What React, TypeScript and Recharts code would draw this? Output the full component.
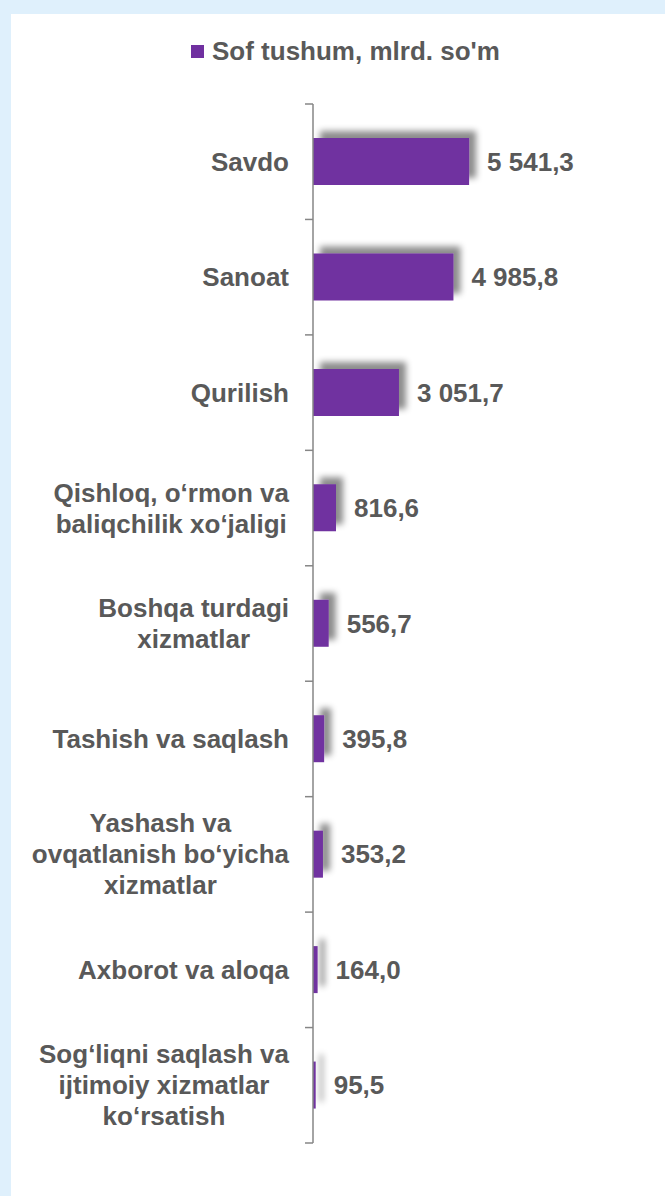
import React from 'react';
import { BarChart, Bar, XAxis, YAxis, LabelList } from 'recharts';

// categories (line breaks as in the source chart)
const categories = [
  'Savdo',
  'Sanoat',
  'Qurilish',
  'Qishloq, o‘rmon va\nbaliqchilik xo‘jaligi',
  'Boshqa turdagi\nxizmatlar',
  'Tashish va saqlash',
  'Yashash va\novqatlanish bo‘yicha\nxizmatlar',
  'Axborot va aloqa',
  'Sog‘liqni saqlash va\nijtimoiy xizmatlar\nko‘rsatish',
];
const sofTushum = [5541.3, 4985.8, 3051.7, 816.6, 556.7, 395.8, 353.2, 164.0, 95.5];
const seriesName = "Sof tushum, mlrd. so'm";

const data = categories.map((name, i) => ({ name, value: sofTushum[i] }));

const W = 665;
const H = 1196;
const TOP = 104;
const BOTTOM = 53;
const AXIS_X = 313;
const BAND = (H - TOP - BOTTOM) / categories.length;
const TEXT = '#595959';
const FONT = "'Liberation Sans', Arial, sans-serif";
const PURPLE = '#7030A0';

const fmt = (v: number) => {
  const [int, dec] = v.toFixed(1).split('.');
  return int.replace(/\B(?=(\d{3})+(?!\d))/g, ' ') + ',' + dec;
};

let ctx: CanvasRenderingContext2D | null = null;
const measure = (s: string) => {
  if (!ctx) ctx = document.createElement('canvas').getContext('2d');
  if (!ctx) return s.length * 14;
  ctx.font = `bold 26px ${FONT}`;
  return ctx.measureText(s).width;
};

const CategoryTick = (props: any) => {
  const { y, payload, index } = props;
  const lines: string[] = String(payload.value).split('\n');
  const right = AXIS_X - 24;
  const maxW = Math.max(...lines.map(measure));
  const lh = 31;
  const first = y - ((lines.length - 1) * lh) / 2 + 9;
  const multi = lines.length > 1;
  return (
    <g>
      <line x1={AXIS_X - 8} x2={AXIS_X} y1={y - BAND / 2} y2={y - BAND / 2} stroke="#868686" strokeWidth={1.5} />
      {index === categories.length - 1 && (
        <line x1={AXIS_X - 8} x2={AXIS_X} y1={y + BAND / 2} y2={y + BAND / 2} stroke="#868686" strokeWidth={1.5} />
      )}
      {lines.map((l, i) => (
        <text
          key={i}
          x={multi ? right - maxW / 2 : right}
          y={first + i * lh}
          textAnchor={multi ? 'middle' : 'end'}
          fill={TEXT}
          fontSize={26}
          fontWeight="bold"
          fontFamily={FONT}
        >
          {l}
        </text>
      ))}
    </g>
  );
};

export default function App() {
  return (
    <div style={{ position: 'absolute', left: 0, top: 0, width: W, height: H, background: '#dff0fc', overflow: 'hidden' }}>
      <div style={{ position: 'absolute', left: 11, top: 14, right: 0, bottom: 0, background: '#ffffff' }} />
      <div
        style={{
          position: 'absolute', left: 191, top: 36, display: 'flex', alignItems: 'center',
          fontFamily: FONT, fontWeight: 'bold', fontSize: 26, color: TEXT, whiteSpace: 'nowrap',
        }}
      >
        <span style={{ display: 'inline-block', width: 13, height: 13, background: PURPLE, marginRight: 8 }} />
        <span style={{ lineHeight: '30px' }}>{seriesName}</span>
      </div>
      <div style={{ position: 'absolute', left: 0, top: 0 }}>
        <BarChart width={W} height={H} data={data} layout="vertical" margin={{ top: TOP, right: 183, bottom: BOTTOM, left: 0 }}>
          <defs>
            <filter id="barShadow" filterUnits="userSpaceOnUse" x={0} y={0} width={W} height={H}>
              <feDropShadow dx={7} dy={-7} stdDeviation={3} floodColor="#000" floodOpacity={0.45} />
            </filter>
          </defs>
          <XAxis type="number" domain={[0, 6000]} hide />
          <YAxis
            type="category"
            dataKey="name"
            width={AXIS_X}
            axisLine={{ stroke: '#868686', strokeWidth: 1.5 }}
            tickLine={false}
            tick={<CategoryTick />}
            interval={0}
          />
          <Bar dataKey="value" fill={PURPLE} barSize={47} isAnimationActive={false} style={{ filter: 'url(#barShadow)' }}>
            <LabelList
              dataKey="value"
              position="right"
              offset={18}
              formatter={(v: any) => fmt(Number(v))}
              fill={TEXT}
              fontSize={26}
              fontWeight="bold"
              fontFamily={FONT}
            />
          </Bar>
        </BarChart>
      </div>
    </div>
  );
}
